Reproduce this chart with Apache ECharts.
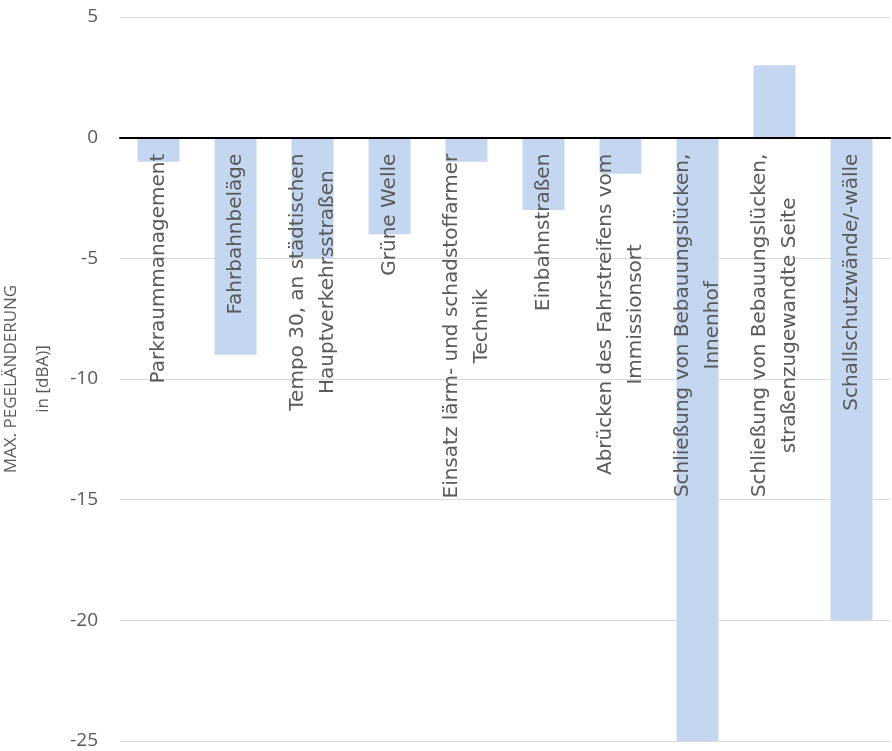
<!DOCTYPE html>
<html><head><meta charset="utf-8">
<script src="https://cdn.jsdelivr.net/npm/echarts@6/dist/echarts.min.js"></script>
<style>html,body{margin:0;padding:0;background:#fff}#c{width:892px;height:751px}</style>
</head><body><div id="c"></div>
<script>
const categories = [
  'Parkraummanagement',
  'Fahrbahnbeläge',
  'Tempo 30, an städtischen\nHauptverkehrsstraßen',
  'Grüne Welle',
  'Einsatz lärm- und schadstoffarmer\nTechnik',
  'Einbahnstraßen',
  'Abrücken des Fahrstreifens vom\nImmissionsort',
  'Schließung von Bebauungslücken,\nInnenhof',
  'Schließung von Bebauungslücken,\nstraßenzugewandte Seite',
  'Schallschutzwände/-wälle'
];
const values = [-1, -9, -5, -4, -1, -3, -1.5, -25, 3, -20];

const FONT = '20px "DejaVu Sans"';
const ctx = document.createElement('canvas').getContext('2d');
ctx.font = FONT;
const longest = categories.map(c => Math.max(...c.split('\n').map(l => ctx.measureText(l).width)));

const chart = echarts.init(document.getElementById('c'));
chart.setOption({
  animation: false,
  grid: { left: 120, right: 2, top: 17, bottom: 10, outerBoundsMode: 'none' },
  xAxis: {
    type: 'category',
    data: categories,
    axisLine: { onZero: true, lineStyle: { color: '#000', width: 2 } },
    axisTick: { show: false },
    axisLabel: { show: false },
    z: 5
  },
  yAxis: {
    type: 'value', min: -25, max: 5, interval: 5,
    name: 'MAX. PEGELÄNDERUNG\nin [dBA)]',
    nameLocation: 'middle', nameGap: 40,
    nameTextStyle: { fontFamily: 'Open Sans', fontSize: 17, color: '#595959', lineHeight: 32 },
    axisLine: { show: false }, axisTick: { show: false },
    axisLabel: { fontFamily: 'Open Sans', fontSize: 19, color: '#595959', margin: 22 },
    splitLine: { lineStyle: { color: '#d9d9d9' } }
  },
  series: [{
    type: 'bar', data: values, barWidth: 42,
    itemStyle: { color: '#c5d7f0' }
  }, {
    type: 'custom',
    data: categories.map((c, i) => [i, 0]),
    z: 10,
    renderItem: function (params, api) {
      const i = params.dataIndex;
      const p = api.coord([api.value(0), 0]);
      return {
        type: 'text',
        x: p[0], y: p[1] + 16 + longest[i] / 2,
        rotation: Math.PI / 2,
        style: {
          text: categories[i], font: FONT, lineHeight: 30,
          align: 'center', verticalAlign: 'middle', fill: '#595959'
        }
      };
    }
  }]
});
</script></body></html>
